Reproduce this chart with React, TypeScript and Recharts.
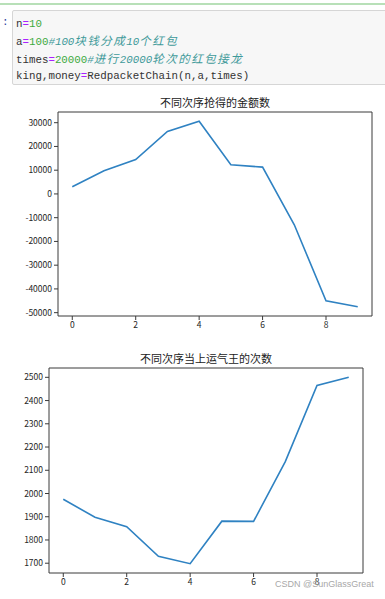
import React from 'react';
import { LineChart, Line, XAxis, YAxis, ReferenceLine } from 'recharts';

// 抢红包模拟的结果
const orders = [0, 1, 2, 3, 4, 5, 6, 7, 8, 9];
const moneyValues = [3000, 9800, 14500, 26300, 30600, 12300, 11300, -13000, -45000, -47500];
const kingValues = [1975, 1898, 1857, 1730, 1698, 1881, 1880, 2137, 2465, 2500];
const xTicks = [0, 2, 4, 6, 8];
const moneyTicks = [-50000, -40000, -30000, -20000, -10000, 0, 10000, 20000, 30000];
const kingTicks = [1700, 1800, 1900, 2000, 2100, 2200, 2300, 2400, 2500];

const moneyTitle = '不同次序抢得的金额数';
const kingTitle = '不同次序当上运气王的次数';

const lineColor = '#2f82c2';
const frameColor = '#3a3a3a';
const tickFont = { fontSize: 8.5, fill: '#262626', fontFamily: '"Noto Sans CJK SC", sans-serif' };

// matplotlib 默认留 5% 的边
function padDomain(vals: number[]): [number, number] {
    const lo = Math.min(...vals);
    const hi = Math.max(...vals);
    const p = (hi - lo) * 0.05;
    return [lo - p, hi + p];
}
const xDomain: [number, number] = padDomain(orders);

interface chartProps {
    values: number[]
    ticks: number[]
    title: string
    top: number
    height: number
    margin: { top: number, right: number, left: number, bottom: number }
    yWidth: number
}

function MplChart({ values, ticks, title, top, height, margin, yWidth }: chartProps) {
    const data = orders.map((o, i) => ({ i: o, v: values[i] }));
    const yDomain = padDomain(values);
    const plotLeft = margin.left + yWidth;
    const plotRight = 385 - margin.right;
    return (
        <div style={{ position: 'absolute', left: 0, top, width: 385, height }}>
            <div style={{
                position: 'absolute', left: plotLeft, width: plotRight - plotLeft, top: margin.top - 17,
                textAlign: 'center', fontSize: 11, color: '#222',
                fontFamily: '"Noto Sans CJK SC", sans-serif', lineHeight: '14px'
            }}>{title}</div>
            <LineChart width={385} height={height} data={data} margin={margin}>
                <XAxis dataKey="i" type="number" domain={xDomain} ticks={xTicks} allowDataOverflow
                    height={20} tickSize={4} tickMargin={2} tick={tickFont}
                    stroke={frameColor} axisLine={{ stroke: frameColor, strokeWidth: 1 }} />
                <YAxis type="number" domain={yDomain} ticks={ticks} allowDataOverflow interval={0}
                    width={yWidth} tickSize={4} tickMargin={2} tick={tickFont}
                    stroke={frameColor} axisLine={{ stroke: frameColor, strokeWidth: 1 }} />
                {/* 上边框和右边框 */}
                <ReferenceLine y={yDomain[1]} stroke={frameColor} strokeWidth={1} ifOverflow="visible" />
                <ReferenceLine x={xDomain[1]} stroke={frameColor} strokeWidth={1} ifOverflow="visible" />
                <Line dataKey="v" stroke={lineColor} strokeWidth={1.6} dot={false}
                    isAnimationActive={false} type="linear" />
            </LineChart>
        </div>
    );
}

const cjk = { fontFamily: '"Noto Sans CJK SC", sans-serif', fontSize: 11.5, letterSpacing: 1.5 };
const op = { color: '#aa22ff' };
const num = { color: '#3daa3d' };
const cmt = { color: '#3f9a9a', fontStyle: 'italic' as const };

export default function App() {
    return (
        <div style={{ position: 'fixed', left: 0, top: 0, width: 385, height: 599, background: '#fff', overflow: 'hidden' }}>
            <div style={{ position: 'absolute', left: 0, top: 3, width: 385, height: 2, background: '#b8e0b8' }} />
            <div style={{ position: 'absolute', left: 2, top: 16, fontSize: 11, color: '#303f9f', fontFamily: '"Liberation Mono", monospace' }}>:</div>
            <div style={{
                position: 'absolute', left: 12, top: 10, width: 380, height: 75, background: '#f7f7f7',
                border: '1px solid #d6d6d6', borderRadius: 2, boxSizing: 'border-box'
            }} />
            <div style={{
                position: 'absolute', left: 16, top: 16, fontSize: 10.8, lineHeight: '16px', color: '#333',
                fontFamily: '"Liberation Mono", monospace', whiteSpace: 'pre'
            }}>
                <div>n<span style={op}>=</span><span style={num}>10</span></div>
                <div>a<span style={op}>=</span><span style={num}>100</span><span style={cmt}>#100<span style={cjk}>块钱分成</span>10<span style={cjk}>个红包</span></span></div>
                <div>times<span style={op}>=</span><span style={num}>20000</span><span style={cmt}>#<span style={cjk}>进行</span>20000<span style={cjk}>轮次的红包接龙</span></span></div>
                <div>king,money<span style={op}>=</span>RedpacketChain(n,a,times)</div>
            </div>
            <MplChart values={moneyValues} ticks={moneyTicks} title={moneyTitle} top={90} height={260}
                margin={{ top: 22, right: 13, left: 0, bottom: 14 }} yWidth={58} />
            <MplChart values={kingValues} ticks={kingTicks} title={kingTitle} top={340} height={259}
                margin={{ top: 28, right: 22, left: 0, bottom: 6 }} yWidth={49} />
            <div style={{
                position: 'absolute', left: 275, top: 579, fontSize: 9, color: '#a8a8a8',
                fontFamily: '"Liberation Sans", sans-serif'
            }}>CSDN @SunGlassGreat</div>
        </div>
    );
}
